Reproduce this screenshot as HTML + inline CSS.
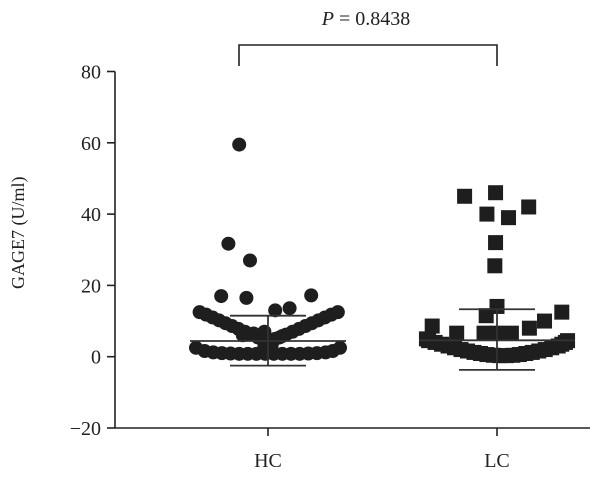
<!DOCTYPE html>
<html><head><meta charset="utf-8"><style>
body{margin:0;background:#fff}
svg{display:block;font-family:"Liberation Serif",serif}
</style></head><body>
<svg id="chart" width="600" height="478" viewBox="0 0 600 478" xmlns="http://www.w3.org/2000/svg"></svg>
<script>
const categories=["HC","LC"];
const yTicks=[80,60,40,20,0,-20];
const hcVals=[59.5,31.7,27,17,16.5,17.2,13,13.6,
12.5,11.8,11,10.2,9.4,8.6,7.8,7,6.2,5.4,4.6,3.8,3,2.5,
3,3.8,4.6,5.4,6.2,7,7.8,8.6,9.4,10.2,11,11.8,12.5,
2.5,1.6,1.2,1,0.9,0.8,0.8,0.8,0.8,0.8,0.8,0.8,0.8,0.9,1,1.2,1.6,2.5,
6.5,5.8,7,5,6];
const hcJit=[-0.4,-0.55,-0.25,-0.65,-0.3,0.6,0.1,0.3,
-0.95,-0.86,-0.77,-0.68,-0.59,-0.5,-0.41,-0.32,-0.23,-0.14,-0.05,0.02,0.05,0,
-0.05,-0.02,0.07,0.16,0.25,0.34,0.43,0.52,0.61,0.7,0.79,0.88,0.97,
-1,-0.88,-0.76,-0.64,-0.52,-0.4,-0.28,-0.16,-0.04,0.08,0.2,0.32,0.44,0.56,0.68,0.8,0.9,1,
-0.2,0.2,-0.05,0.1,-0.35];
const hcStats=[4.4,11.5,-2.5];
const lcVals=[45,46,40,39,42,32,25.5,14.1,11.5,
8.6,6.6,6.6,6.6,6.6,8,10,12.5,
4.5,4,3.5,3,2.5,2,1.6,1.2,0.9,0.6,0.4,0.3,0.3,0.4,0.6,0.9,1.2,1.6,2,2.5,3,3.5,4,4.5,5];
const lcJit=[-0.45,-0.02,-0.14,0.16,0.44,-0.02,-0.03,0,-0.15,
-0.9,-0.56,-0.18,0,0.2,0.45,0.66,0.9,
-0.95,-0.86,-0.77,-0.68,-0.59,-0.5,-0.41,-0.32,-0.23,-0.14,-0.05,0.04,0.13,0.22,0.31,0.4,0.49,0.58,0.67,0.76,0.85,0.9,0.95,0.98,-0.98];
const lcStats=[4.6,13.3,-3.7];
const pLabel="0.8438";

const svg=document.getElementById('chart');
const NS='http://www.w3.org/2000/svg';
const X0=115,X1=590,YTOP=71.5,YBOT=428,VMAX=80,VMIN=-20;
const y=v=>YBOT-(v-VMIN)/(VMAX-VMIN)*(YBOT-YTOP);
const catX=[268,497];
const HALF=72;
function mk(tag,attrs,parent){const e=document.createElementNS(NS,tag);for(const k in attrs)e.setAttribute(k,attrs[k]);(parent||svg).appendChild(e);return e;}

const yAxis=mk('line',{x1:X0,y1:YTOP,x2:X0,y2:YBOT,stroke:'#222','stroke-width':1.6});


const xAxis=mk('line',{x1:X0,y1:YBOT,x2:X1,y2:YBOT,stroke:'#222','stroke-width':1.6});


yTicks.forEach(t=>{
  const tk=mk('line',{x1:X0-8,y1:y(t),x2:X0,y2:y(t),stroke:'#222','stroke-width':1.6});
  
  
  const tx=mk('text',{x:X0-14,y:y(t)+7,'text-anchor':'end','font-size':20,fill:'#222'});
  tx.textContent=(t<0?'\u2212'+(-t):String(t));
  
  
});
categories.forEach((c,i)=>{
  const tk=mk('line',{x1:catX[i],y1:YBOT,x2:catX[i],y2:YBOT+8,stroke:'#222','stroke-width':1.6});
  
  
  const tx=mk('text',{x:catX[i],y:467,'text-anchor':'middle','font-size':20,fill:'#222'});
  tx.textContent=c;
  
  
});
const yt=mk('text',{x:0,y:0,'text-anchor':'middle','font-size':18,fill:'#222',transform:'translate(24,'+((YTOP+YBOT)/2-17)+') rotate(-90)'});
yt.textContent='GAGE7 (U/ml)';



hcVals.forEach((v,i)=>{
  const c=mk('circle',{cx:catX[0]+hcJit[i]*HALF,cy:y(v),r:7,fill:'#1e1e1e'});
  
  
});
lcVals.forEach((v,i)=>{
  const cx=catX[1]+lcJit[i]*HALF;
  const r=mk('rect',{x:cx-7.5,y:y(v)-7.5,width:15,height:15,fill:'#1e1e1e'});
  
  
});

function errBar(i,st,name){
  const g=mk('g',{stroke:'#333','stroke-width':1.8});
  
  
  const cx=catX[i];
  mk('line',{x1:cx-78,y1:y(st[0]),x2:cx+78,y2:y(st[0])},g);
  mk('line',{x1:cx-38,y1:y(st[1]),x2:cx+38,y2:y(st[1])},g);
  mk('line',{x1:cx-38,y1:y(st[2]),x2:cx+38,y2:y(st[2])},g);
  mk('line',{x1:cx,y1:y(st[1]),x2:cx,y2:y(st[2])},g);
}
errBar(0,hcStats,'hc-error-bar');
errBar(1,lcStats,'lc-error-bar');

const br=mk('path',{d:'M239 66 V45 H497 V66',fill:'none',stroke:'#222','stroke-width':1.6});


const pt=mk('text',{x:366,y:25,'text-anchor':'middle','font-size':20,fill:'#222'});


const ts=mk('tspan',{'font-style':'italic'},pt);ts.textContent='P';
const ts2=mk('tspan',{},pt);ts2.textContent=' = '+pLabel;
</script>
</body></html>
